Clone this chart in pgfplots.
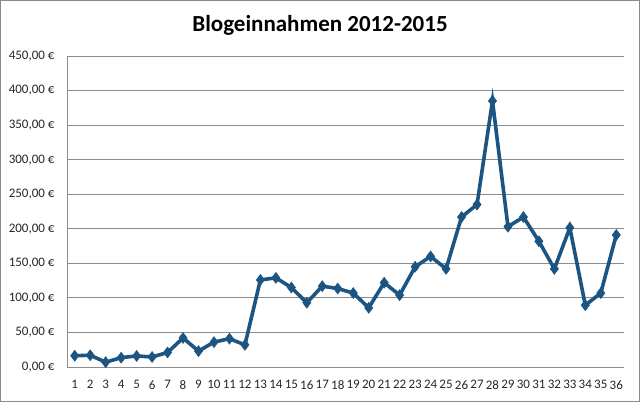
\documentclass[border=0pt]{standalone}
\usepackage{pgfplots}
\pgfplotsset{compat=1.18}
\usepackage{fontspec}
\setmainfont{Carlito}
\definecolor{linecol}{HTML}{1D5582}
\definecolor{gridcol}{HTML}{8C8C8C}
\definecolor{framecol}{HTML}{8A8A8A}
\begin{document}
\begin{tikzpicture}[x=1pt,y=1pt]
\useasboundingbox (0,0) rectangle (640,402);
\draw[framecol,line width=1.2pt] (0.8,0.8) rectangle (639.2,401.2);
\node[font=\bfseries\fontsize{23}{26}\selectfont] at (320,377) {Blogeinnahmen 2012-2015};
\begin{axis}[
  at={(67pt,35pt)}, anchor=south west,
  scale only axis, width=557pt, height=311pt,
  xmin=0.5, xmax=36.5, ymin=0, ymax=450,
  xtick={1,...,36}, ytick={0,50,...,450},
  yticklabel={\pgfmathprintnumber[fixed,fixed zerofill,precision=2,use comma]{\tick} €},
  /pgf/number format/assume math mode=true,
  tick label style={font=\fontsize{13}{15}\selectfont, text=black!85},
  xticklabel style={yshift=-10pt},
  yticklabel style={xshift=-9pt},
  major tick length=0pt,
  ymajorgrids, grid style={gridcol, line width=0.9pt},
  axis x line*=bottom, axis y line*=left,
  axis line style={gridcol, line width=0.9pt, -},
  clip=false,
]
\addplot[color=linecol, line width=3.6pt, mark=diamond*, mark size=5.5pt, mark options={fill=linecol, line width=0.5pt}] coordinates {
(1,16.3)(2,17)(3,7)(4,13.5)(5,16)(6,14.5)(7,21)(8,42)(9,23)(10,36)
(11,41)(12,32)(13,126)(14,129)(15,115)(16,93)(17,117)(18,113.5)(19,107)(20,85.6)
(21,122)(22,104)(23,145)(24,160)(25,142)(26,217)(27,235)(28,385)(29,203)(30,217)
(31,182)(32,142)(33,201.5)(34,89.4)(35,107)(36,191)
};
\end{axis}
\end{tikzpicture}
\end{document}
